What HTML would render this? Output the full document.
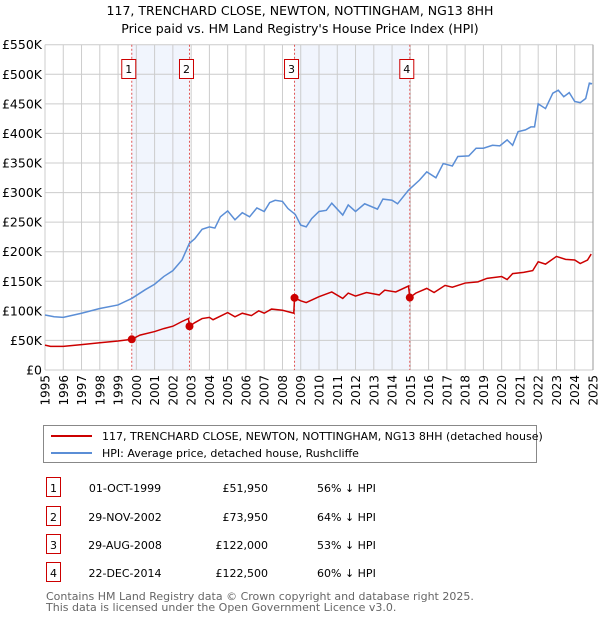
<!DOCTYPE html>
<html><head><meta charset="utf-8"><style>
body{margin:0;background:#fff;width:600px;height:620px;overflow:hidden;font-family:"DejaVu Sans","Liberation Sans",sans-serif;}
svg text{font-family:"DejaVu Sans","Liberation Sans",sans-serif;}
</style></head><body>
<svg id="chart" width="600" height="620" xmlns="http://www.w3.org/2000/svg">
<text x="300" y="15" text-anchor="middle" font-size="12.5">117, TRENCHARD CLOSE, NEWTON, NOTTINGHAM, NG13 8HH</text>
<text x="300" y="33" text-anchor="middle" font-size="12.5">Price paid vs. HM Land Registry's House Price Index (HPI)</text>
<g id="plot"></g>
<g>
<rect x="43.5" y="425.5" width="493" height="37" fill="#fff" stroke="#888"/>
<line x1="51" y1="436" x2="92" y2="436" stroke="#cc0000" stroke-width="2"/>
<text x="102" y="440" font-size="11">117, TRENCHARD CLOSE, NEWTON, NOTTINGHAM, NG13 8HH (detached house)</text>
<line x1="51" y1="453" x2="92" y2="453" stroke="#5b8ed6" stroke-width="2"/>
<text x="102" y="457" font-size="11">HPI: Average price, detached house, Rushcliffe</text>
</g>
<g id="table"></g>
<text x="46" y="600" font-size="11" fill="#666">Contains HM Land Registry data © Crown copyright and database right 2025.</text>
<text x="46" y="611" font-size="11" fill="#666">This data is licensed under the Open Government Licence v3.0.</text>
</svg>
<script>
const hpiYears=[1995,1995.5,1996,1997,1998,1999,1999.75,2000.5,2001,2001.5,2002,2002.5,2002.9,2003.2,2003.6,2004,2004.3,2004.6,2005,2005.4,2005.8,2006.2,2006.6,2007,2007.3,2007.6,2008,2008.3,2008.7,2009,2009.3,2009.6,2010,2010.4,2010.7,2011.3,2011.6,2012,2012.5,2013.2,2013.5,2014,2014.3,2014.9,2015.5,2015.9,2016.4,2016.8,2017.3,2017.6,2018.2,2018.6,2019,2019.5,2019.9,2020.3,2020.6,2020.9,2021.3,2021.6,2021.8,2022.0,2022.4,2022.8,2023.1,2023.4,2023.7,2024.0,2024.3,2024.6,2024.8,2024.95];
const hpiValues=[93,90,89,96,104,110,121,136,145,158,168,186,214,222,238,242,240,259,269,254,266,259,274,268,283,287,285,273,263,245,242,256,268,270,282,262,279,268,281,272,289,287,281,304,321,335,325,349,345,361,362,375,375,380,379,389,380,403,406,411,411,450,442,468,473,462,469,454,452,459,485,484];
const ppYears=[1995,1995.3,1996,1997,1998,1999,1999.75,2000.2,2001,2001.5,2002,2002.5,2002.85,2002.91,2003.2,2003.6,2004,2004.2,2005,2005.4,2005.8,2006.3,2006.7,2007,2007.4,2008,2008.5,2008.62,2008.66,2009,2009.3,2010,2010.7,2011.3,2011.6,2012,2012.6,2013.3,2013.6,2014.2,2014.9,2014.97,2015.3,2015.9,2016.3,2016.9,2017.3,2018,2018.7,2019.2,2020,2020.3,2020.6,2021.2,2021.7,2022.0,2022.4,2023.0,2023.5,2024,2024.3,2024.7,2024.9];
const ppValues=[42,40,40,43,46,49,52,59,65,70,74,82,87,74,80,87,89,85,97,90,96,92,100,96,103,101,97,96,122,117,114,124,132,121,130,125,131,127,135,132,142,122.5,130,138,131,143,140,147,149,155,158,153,163,165,168,183,179,192,187,186,180,186,196];
const saleLabels=["1","2","3","4"];
const saleYears=[1999.75,2002.91,2008.66,2014.97];
const salePrices=[51.95,73.95,122,122.5];
const saleDates=["01-OCT-1999","29-NOV-2002","29-AUG-2008","22-DEC-2014"];
const salePriceText=["£51,950","£73,950","£122,000","£122,500"];
const saleHpiText=["56% ↓ HPI","64% ↓ HPI","53% ↓ HPI","60% ↓ HPI"];
const yTicks=[0,50,100,150,200,250,300,350,400,450,500,550];
const yTickLabels=["£0","£50K","£100K","£150K","£200K","£250K","£300K","£350K","£400K","£450K","£500K","£550K"];
const xTicks=[1995,1996,1997,1998,1999,2000,2001,2002,2003,2004,2005,2006,2007,2008,2009,2010,2011,2012,2013,2014,2015,2016,2017,2018,2019,2020,2021,2022,2023,2024,2025];

const L=45,R=593,T=44.7,B=370;
const xs=y=>L+(y-1995)/30*(R-L);
const ys=v=>B-v/550*(B-T);
const NS="http://www.w3.org/2000/svg";
const plot=document.getElementById('plot');
function mk(tag,attrs,parent){const e=document.createElementNS(NS,tag);for(const k in attrs)e.setAttribute(k,attrs[k]);(parent||plot).appendChild(e);return e;}

for(let i=0;i<4;i+=2){
 const r=mk('rect',{x:xs(saleYears[i]),y:T,width:xs(saleYears[i+1])-xs(saleYears[i]),height:B-T,fill:'#f1f5fd'});
 
 
}
xTicks.forEach((t,i)=>{
 const l=mk('line',{x1:xs(t),x2:xs(t),y1:T,y2:B,stroke:'#ccc','stroke-width':1});
 
 
 const tx=mk('text',{x:0,y:0,'font-size':12,'text-anchor':'end',transform:`translate(${xs(t)+4.5},${B+5}) rotate(-90)`});
 tx.textContent=t;
 
 
});
yTicks.forEach((t,i)=>{
 const l=mk('line',{x1:L,x2:R,y1:ys(t),y2:ys(t),stroke:'#ccc','stroke-width':1});
 
 
 const tx=mk('text',{x:L-3,y:ys(t)+4.5,'font-size':12.5,'text-anchor':'end'});
 tx.textContent=yTickLabels[i];
 
 
});
const fr=mk('line',{x1:R,x2:R,y1:T,y2:B,stroke:'#999','stroke-width':1});


saleYears.forEach((y,i)=>{
 const l=mk('line',{x1:xs(y),x2:xs(y),y1:T,y2:B,stroke:'#e05555','stroke-width':1,'stroke-dasharray':'2,2'});
 
 
 const bx=mk('rect',{x:xs(y)-10,y:59.5,width:14,height:19,fill:'#fff',stroke:'#cc0000'});
 
 
 const t=mk('text',{x:xs(y)-3,y:73,'font-size':11,'text-anchor':'middle'});
 t.textContent=saleLabels[i];
 
 
});
const hp=mk('polyline',{points:hpiYears.map((y,i)=>xs(y)+','+ys(hpiValues[i])).join(' '),fill:'none',stroke:'#5b8ed6','stroke-width':1.5});


const pp=mk('polyline',{points:ppYears.map((y,i)=>xs(y)+','+ys(ppValues[i])).join(' '),fill:'none',stroke:'#cc0000','stroke-width':1.5});


saleYears.forEach((y,i)=>{
 const c=mk('circle',{cx:xs(y),cy:ys(salePrices[i]),r:4,fill:'#cc0000'});
 
 
});
const tb=document.getElementById('table');
const rowY=[489,518,546,574];
saleLabels.forEach((s,i)=>{
 const y=rowY[i];
 const b=mk('rect',{x:46.5,y:y-11.5,width:14,height:19,fill:'#fff',stroke:'#cc0000'},tb);
 
 
 const a=mk('text',{x:53.5,y:y+3,'font-size':11,'text-anchor':'middle'},tb);a.textContent=s;
 
 
 const d=mk('text',{x:125,y:y+3,'font-size':11,'text-anchor':'middle'},tb);d.textContent=saleDates[i];
 
 
 const p=mk('text',{x:268,y:y+3,'font-size':11,'text-anchor':'end'},tb);p.textContent=salePriceText[i];
 
 
 const h=mk('text',{x:317,y:y+3,'font-size':11},tb);h.textContent=saleHpiText[i];
 
 
});
</script>
</body></html>
